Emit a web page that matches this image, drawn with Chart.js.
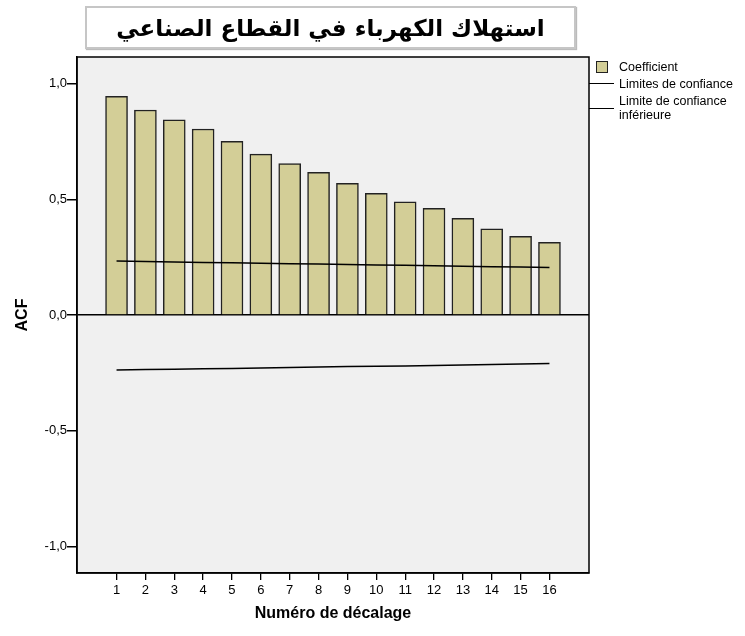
<!DOCTYPE html>
<html>
<head>
<meta charset="utf-8">
<script src="https://cdn.jsdelivr.net/npm/chart.js@4.4.1/dist/chart.umd.min.js"></script>
<style>
    body { margin: 0; background: #fff; }
    #wrap { position: relative; width: 745px; height: 636px; font-family: "Liberation Sans", Arial, sans-serif; }
    #acfChart { position: absolute; left: 0; top: 0; }
    #titre {
        position: absolute; left: 85px; top: 6px; width: 487px; height: 39px;
        border: 2px solid #c6c6c6; background: #fff;
        box-shadow: 1px 1px 1px #bbb;
        font-family: "DejaVu Sans", sans-serif; font-weight: bold; font-size: 23px;
        line-height: 40px; text-align: center; color: #000;
    }
    .leg { position: absolute; font-size: 12.5px; color: #000; line-height: 14px; }
    .carre { position: absolute; left: 596px; top: 61px; width: 10px; height: 10px; background: #d3ce97; border: 1px solid #222; }
    .trait { position: absolute; left: 589px; width: 25px; height: 0; border-top: 1.5px solid #000; }
</style>
</head>
<body>
<div id="wrap">
    <canvas id="acfChart" width="745" height="636"></canvas>
    <div id="titre" dir="rtl">استهلاك الكهرباء في القطاع الصناعي</div>
    <div class="carre"></div>
    <div class="leg" style="left:619px; top:60px;">Coefficient</div>
    <div class="trait" style="top:83px;"></div>
    <div class="leg" style="left:619px; top:77px;">Limites de confiance</div>
    <div class="trait" style="top:108px;"></div>
    <div class="leg" style="left:619px; top:94px;">Limite de confiance<br>inférieure</div>
</div>
<script>
const lags = [1, 2, 3, 4, 5, 6, 7, 8, 9, 10, 11, 12, 13, 14, 15, 16];
const coefficients = [0.945, 0.886, 0.843, 0.804, 0.751, 0.695, 0.654, 0.617,
                      0.569, 0.526, 0.489, 0.461, 0.418, 0.372, 0.340, 0.314];
const limiteSup = [0.233, 0.231, 0.229, 0.227, 0.226, 0.224, 0.222, 0.220,
                   0.218, 0.216, 0.215, 0.213, 0.211, 0.209, 0.207, 0.205];
const limiteInf = [-0.238, -0.236, -0.234, -0.232, -0.231, -0.229, -0.227, -0.225,
                   -0.223, -0.221, -0.220, -0.218, -0.216, -0.214, -0.212, -0.210];
const yTicks = [-1, -0.5, 0, 0.5, 1];
const yTickLabels = ['-1,0', '-0,5', '0,0', '0,5', '1,0'];

const police = '"Liberation Sans", Arial, sans-serif';

// Fond gris et cadre de la zone de tracé
const cadrePlugin = {
    id: 'cadre',
    beforeDraw(chart) {
        const { ctx, chartArea: a } = chart;
        ctx.save();
        ctx.fillStyle = '#f0f0f0';
        ctx.fillRect(a.left, a.top, a.right - a.left, a.bottom - a.top);
        ctx.restore();
    },
    afterDraw(chart) {
        const { ctx, chartArea: a } = chart;
        ctx.save();
        ctx.strokeStyle = '#000';
        ctx.lineWidth = 1.5;
        ctx.strokeRect(a.left, a.top, a.right - a.left, a.bottom - a.top);
        ctx.restore();
    }
};

const toPoints = vals => lags.map((l, i) => ({ x: l, y: vals[i] }));

new Chart(document.getElementById('acfChart'), {
    type: 'bar',
    data: {
        datasets: [
            {
                type: 'line',
                label: 'Limites de confiance',
                data: toPoints(limiteSup),
                borderColor: '#000',
                borderWidth: 1.5,
                pointRadius: 0,
                order: 1
            },
            {
                type: 'line',
                label: 'Limite de confiance inférieure',
                data: toPoints(limiteInf),
                borderColor: '#000',
                borderWidth: 1.5,
                pointRadius: 0,
                order: 1
            },
            {
                label: 'Coefficient',
                data: toPoints(coefficients),
                backgroundColor: '#d3ce97',
                borderColor: '#222',
                borderWidth: 1.5,
                barThickness: 22,
                order: 2
            }
        ]
    },
    options: {
        responsive: false,
        animation: false,
        devicePixelRatio: 1,
        layout: { padding: { left: 0, top: 57, right: 156, bottom: 0 } },
        plugins: {
            legend: { display: false },
            tooltip: { enabled: false }
        },
        scales: {
            x: {
                type: 'linear',
                offset: false,
                min: -0.37,
                max: 17.37,
                afterBuildTicks: s => { s.ticks = lags.map(v => ({ value: v })); },
                afterFit: s => { s.height = 63; },
                grid: { offset: false, drawOnChartArea: false, tickLength: 7, tickColor: '#000', lineWidth: 1.3 },
                border: { color: '#000', width: 1.5 },
                ticks: { color: '#000', font: { family: police, size: 13 }, padding: 3, maxRotation: 0,
                         callback: v => String(v) },
                title: {
                    display: true,
                    text: 'Numéro de décalage',
                    color: '#000',
                    font: { family: police, size: 16, weight: 'bold' },
                    padding: { top: 0, bottom: 13 }
                }
            },
            y: {
                min: -1.115,
                max: 1.115,
                afterBuildTicks: s => { s.ticks = yTicks.map(v => ({ value: v })); },
                afterFit: s => { s.width = 77; },
                grid: {
                    drawOnChartArea: true,
                    color: c => (c.tick && c.tick.value === 0) ? '#000' : 'rgba(0,0,0,0)',
                    lineWidth: 1.5,
                    tickColor: '#000',
                    tickLength: 10
                },
                border: { color: '#000', width: 1.5 },
                ticks: {
                    color: '#000', font: { family: police, size: 13 }, padding: 0,
                    callback: v => yTickLabels[yTicks.indexOf(v)]
                },
                title: {
                    display: true,
                    text: 'ACF',
                    color: '#000',
                    font: { family: police, size: 16, weight: 'bold' },
                    padding: { top: 13, bottom: 0 }
                }
            }
        }
    },
    plugins: [cadrePlugin]
});
</script>
</body>
</html>
